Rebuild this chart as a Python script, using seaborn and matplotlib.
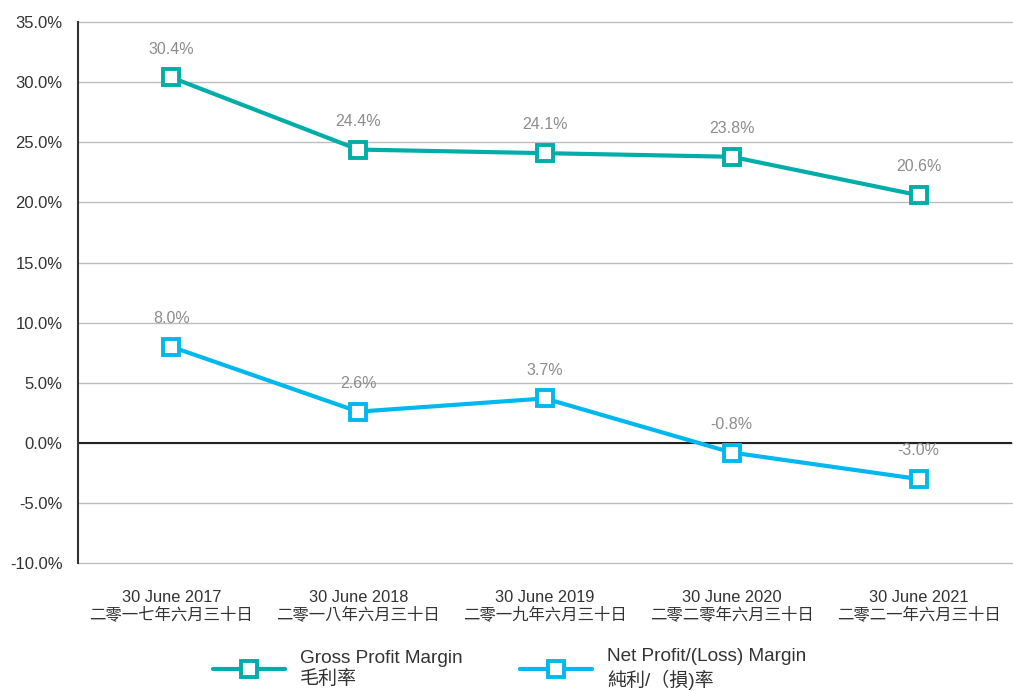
import matplotlib
matplotlib.use("Agg")
import matplotlib.pyplot as plt
import seaborn as sns
import pandas as pd
from matplotlib.ticker import FuncFormatter
from matplotlib.lines import Line2D

categories = ["30 June 2017\n二零一七年六月三十日",
              "30 June 2018\n二零一八年六月三十日",
              "30 June 2019\n二零一九年六月三十日",
              "30 June 2020\n二零二零年六月三十日",
              "30 June 2021\n二零二一年六月三十日"]
gross_margin = [30.4, 24.4, 24.1, 23.8, 20.6]
net_margin = [8.0, 2.6, 3.7, -0.8, -3.0]
series_names = ["Gross Profit Margin\n毛利率", "Net Profit/(Loss) Margin\n純利/（損)率"]
colors = ["#00ADA8", "#00B8EE"]

sns.set_theme(style="white")
plt.rcParams['font.family'] = ['Liberation Sans', 'Noto Sans CJK TC', 'DejaVu Sans']

df = pd.DataFrame({
    "x": list(range(len(categories))) * 2,
    "value": gross_margin + net_margin,
    "series": [series_names[0]] * len(categories) + [series_names[1]] * len(categories),
})

fig = plt.figure(figsize=(10.13, 6.91), dpi=100)
ax = fig.add_axes([0.077, 0.185, 0.922, 0.783])

for yv in range(-10, 36, 5):
    ax.axhline(yv, color="#BDBDBD", lw=1.0, zorder=0, clip_on=False)
ax.axhline(0, color="#222222", lw=1.5, zorder=1)

sns.lineplot(data=df, x="x", y="value", hue="series", palette=colors, ax=ax,
             lw=3.0, marker="s", markersize=11, markerfacecolor="white",
             markeredgewidth=2.8, legend=False, zorder=3)
for line, c in zip(ax.get_lines()[-2:], colors):
    line.set_markeredgecolor(c)

for vals in (gross_margin, net_margin):
    for i, v in enumerate(vals):
        ax.annotate(f"{v:.1f}%", (i, v), xytext=(0, 15), textcoords="offset points",
                    ha="center", va="bottom", fontsize=11.5, color="#8C8C8C")

ax.set_xlim(-0.5, 4.5)
ax.set_ylim(-10, 35)
ax.set_yticks(range(-10, 36, 5))
ax.yaxis.set_major_formatter(FuncFormatter(lambda v, p: f"{v:.1f}%"))
ax.set_xticks(range(len(categories)))
ax.set_xticklabels(categories, fontsize=11.8, color="#333333", linespacing=1.1)
ax.tick_params(axis="y", labelsize=12, labelcolor="#333333", length=0, pad=11)
ax.tick_params(axis="x", length=0, pad=19)
ax.set_xlabel("")
ax.set_ylabel("")
for s in ["top", "right", "bottom"]:
    ax.spines[s].set_visible(False)
ax.spines["left"].set_color("#333333")
ax.spines["left"].set_linewidth(1.5)

handles = [Line2D([], [], color=c, lw=3.0, marker="s", markersize=12,
                  markerfacecolor="white", markeredgecolor=c, markeredgewidth=2.8)
           for c in colors]
leg = fig.legend(handles, series_names, loc="center", bbox_to_anchor=(0.503, 0.032),
                 ncol=2, frameon=False, fontsize=13.7, handlelength=3.8, columnspacing=3.0,
                 labelcolor="#333333", handletextpad=0.8, borderpad=0)
for t in leg.get_texts():
    t.set_linespacing(1.25)

fig.savefig("out.png", dpi=100)
